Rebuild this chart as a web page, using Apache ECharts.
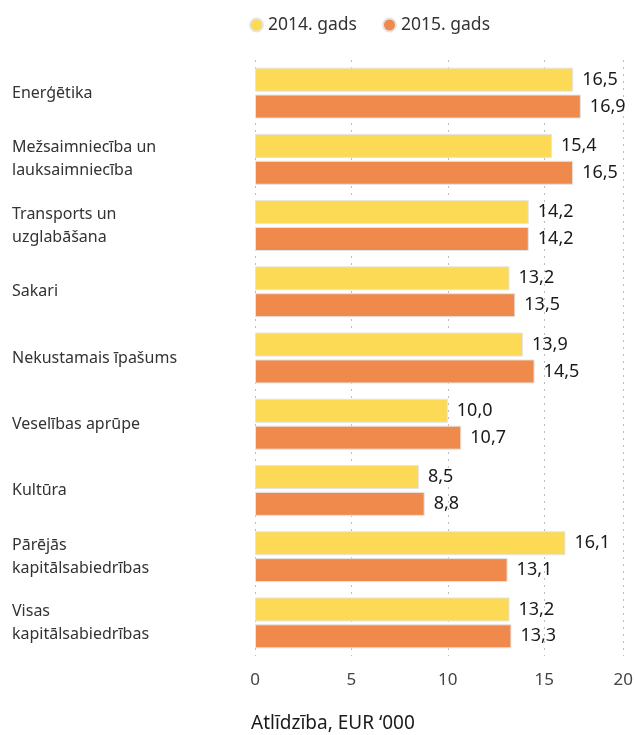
<!DOCTYPE html>
<html>
<head>
<meta charset="utf-8">
<script src="https://cdn.jsdelivr.net/npm/echarts@6/dist/echarts.min.js"></script>
<style>
html,body{margin:0;padding:0;background:#fff;}
#chart{width:636px;height:735px;}
</style>
</head>
<body>
<div id="chart"></div>
<script>
var categories = [
  'Enerģētika',
  'Mežsaimniecība un\nlauksaimniecība',
  'Transports un\nuzglabāšana',
  'Sakari',
  'Nekustamais īpašums',
  'Veselības aprūpe',
  'Kultūra',
  'Pārējās\nkapitālsabiedrības',
  'Visas\nkapitālsabiedrības'
];
var seriesNames = ['2014. gads', '2015. gads'];
var values2014 = [16.5, 15.4, 14.2, 13.2, 13.9, 10.0, 8.5, 16.1, 13.2];
var values2015 = [16.9, 16.5, 14.2, 13.5, 14.5, 10.7, 8.8, 13.1, 13.3];
var tickLabels = ['0', '5', '10', '15', '20'];
var axisMax = 19.1;
var axisTitle = 'Atlīdzība, EUR ‘000';

var FONT = '"Noto Sans", sans-serif';
var chart = echarts.init(document.getElementById('chart'), null, {renderer: 'canvas'});

function fmt(p) { return p.value.toFixed(1).replace('.', ','); }

var labelCfg = {
  show: true, position: 'right', distance: 9,
  formatter: fmt, color: '#1a1a1a', fontSize: 18, fontFamily: FONT
};

chart.setOption({
  animation: false,
  color: ['#FCDA55', '#EF8A4C'],
  title: {
    text: axisTitle, left: 246, top: 709,
    textStyle: {fontSize: 19, fontWeight: 'normal', color: '#1a1a1a', fontFamily: FONT}
  },
  legend: {
    data: seriesNames, left: 244, top: 11,
    icon: 'circle', itemWidth: 13, itemHeight: 13, itemGap: 25,
    textStyle: {fontSize: 17.5, color: '#333', fontFamily: FONT, padding: [0, 0, 0, 0]}
  },
  grid: {left: 255, right: 9, top: 60, bottom: 79, containLabel: false},
  xAxis: {
    type: 'value', min: 0, max: axisMax, interval: 5,
    axisLine: {show: false}, axisTick: {show: false},
    splitLine: {show: true, lineStyle: {color: '#bdbdbd', type: [2, 5], width: 1}},
    axisLabel: {
      color: '#444', fontSize: 17, fontFamily: FONT, margin: 16,
      showMaxLabel: true,
      formatter: function (v) {
        var i = v >= axisMax - 0.01 ? tickLabels.length - 1 : Math.round(v / 5);
        return tickLabels[i];
      }
    }
  },
  yAxis: {
    type: 'category', data: categories, inverse: true,
    axisLine: {show: false}, axisTick: {show: false}, splitLine: {show: false},
    axisLabel: {
      align: 'left', margin: 243, color: '#333', fontSize: 16,
      fontFamily: FONT, lineHeight: 23
    }
  },
  series: [
    {
      name: seriesNames[0], type: 'bar', data: values2014,
      barWidth: 24, barGap: '12%',
      itemStyle: {borderColor: '#e4e4e4', borderWidth: 1},
      label: labelCfg
    },
    {
      name: seriesNames[1], type: 'bar', data: values2015,
      barWidth: 24,
      itemStyle: {borderColor: '#e4e4e4', borderWidth: 1},
      label: labelCfg
    }
  ]
});
</script>
</body>
</html>
